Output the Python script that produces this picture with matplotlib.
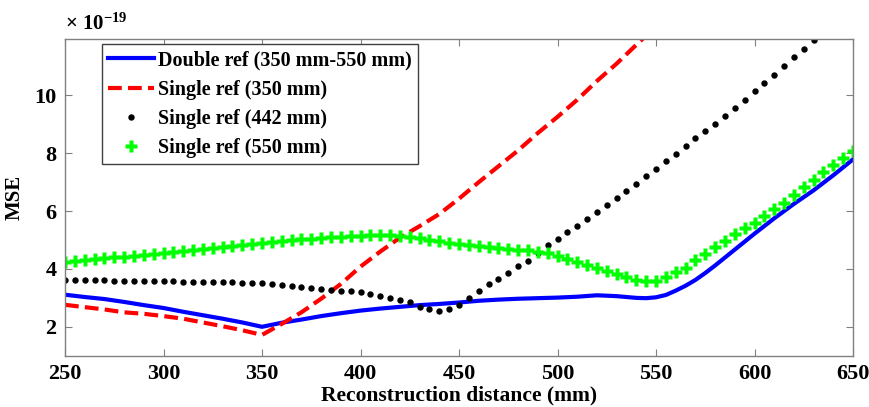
import matplotlib
matplotlib.use("Agg")
import matplotlib.pyplot as plt

plt.rcParams['font.family'] = ['Liberation Serif', 'DejaVu Serif']
plt.rcParams['font.weight'] = 'bold'
plt.rcParams['mathtext.fontset'] = 'custom'
plt.rcParams['mathtext.rm'] = 'Liberation Serif:bold'
plt.rcParams['mathtext.default'] = 'rm'

# Double ref (350 mm-550 mm), values in units of 1e-19
x_double = [250, 260, 270, 280, 290, 300, 310, 320, 330, 340, 350, 360, 370, 380, 390,
            400, 410, 420, 430, 440, 450, 460, 470, 480, 490, 500, 510, 520, 530, 540,
            545, 550, 555, 560, 565, 570, 575, 580, 590, 600, 610, 620, 630, 640, 650]
y_double = [3.11, 3.03, 2.96, 2.86, 2.75, 2.65, 2.52, 2.40, 2.28, 2.15, 2.00, 2.14, 2.25, 2.37, 2.47,
            2.56, 2.63, 2.69, 2.75, 2.79, 2.84, 2.90, 2.94, 2.97, 2.99, 3.01, 3.04, 3.09, 3.06, 3.00,
            2.99, 3.02, 3.10, 3.25, 3.42, 3.62, 3.86, 4.12, 4.67, 5.22, 5.75, 6.25, 6.72, 7.24, 7.79]

# Single ref (350 mm)
x_350 = [250, 260, 270, 280, 290, 300, 310, 320, 330, 340, 350, 360, 370, 380, 390, 400,
         410, 420, 430, 440, 450, 460, 470, 480, 490, 500, 510, 520, 530, 540, 550]
y_350 = [2.76, 2.68, 2.60, 2.50, 2.45, 2.37, 2.28, 2.15, 2.02, 1.88, 1.72, 2.10, 2.50, 2.97, 3.48, 4.08,
         4.60, 5.08, 5.48, 5.90, 6.43, 7.00, 7.55, 8.10, 8.70, 9.26, 9.85, 10.50, 11.10, 11.75, 12.40]

# Single ref (442 mm), 5 mm steps
x_442 = list(range(250, 635, 5))
y_442 = [3.63, 3.62, 3.62, 3.61, 3.61, 3.60, 3.60, 3.59, 3.59, 3.58, 3.57, 3.57, 3.56, 3.56,
         3.55, 3.55, 3.54, 3.54, 3.52, 3.52, 3.52, 3.48, 3.46, 3.42, 3.38, 3.34, 3.32, 3.26,
         3.25, 3.23, 3.19, 3.14, 3.06, 3.00, 2.94, 2.85, 2.69, 2.60, 2.53, 2.60, 2.77, 2.98,
         3.23, 3.47, 3.67, 3.86, 4.09, 4.29, 4.55, 4.84, 5.04, 5.28, 5.50, 5.73, 5.97, 6.21,
         6.46, 6.71, 6.95, 7.23, 7.47, 7.73, 7.99, 8.26, 8.52, 8.78, 9.02, 9.30, 9.57, 9.86,
         10.16, 10.43, 10.71, 11.02, 11.33, 11.62, 11.93]

# Single ref (550 mm), 5 mm steps
x_550 = list(range(250, 655, 5))
y_550 = [4.24, 4.27, 4.31, 4.34, 4.37, 4.40, 4.43, 4.46, 4.49, 4.52, 4.55, 4.59, 4.62, 4.66,
         4.70, 4.73, 4.77, 4.80, 4.84, 4.87, 4.90, 4.93, 4.96, 4.99, 5.02, 5.05, 5.07, 5.09,
         5.11, 5.13, 5.15, 5.16, 5.17, 5.17, 5.15, 5.12, 5.07, 5.00, 4.95, 4.90, 4.86, 4.82,
         4.78, 4.75, 4.73, 4.70, 4.67, 4.64, 4.60, 4.54, 4.46, 4.36, 4.25, 4.14, 4.03, 3.92,
         3.82, 3.72, 3.62, 3.57, 3.60, 3.72, 3.88, 4.05, 4.30, 4.52, 4.77, 4.98, 5.20, 5.40,
         5.60, 5.83, 6.06, 6.28, 6.55, 6.83, 7.08, 7.34, 7.60, 7.85, 8.09]

labels = ['Double ref (350 mm-550 mm)', 'Single ref (350 mm)',
          'Single ref (442 mm)', 'Single ref (550 mm)']

fig = plt.figure(figsize=(8.69, 4.07), dpi=100)
ax = fig.add_axes([0.0748, 0.126, 0.9068, 0.778])

ax.plot(x_double, y_double, color='#0000ff', lw=3, label=labels[0])
ax.plot(x_350, y_350, color='#ff0000', lw=3, ls=(0, (3.3, 1.5)), label=labels[1])
ax.plot(x_442, y_442, ls='none', marker='o', ms=4.6, mec='none', color='black', label=labels[2])
ax.plot(x_550, y_550, ls='none', marker='P', ms=8, mec='none', color='#00ff00', label=labels[3])

ax.set_xlim(250, 650)
ax.set_ylim(1, 11.95)
ax.set_xticks([250, 300, 350, 400, 450, 500, 550, 600, 650])
ax.set_yticks([2, 4, 6, 8, 10])

for s in ax.spines.values():
    s.set_color('#808080')
    s.set_linewidth(1)
ax.tick_params(direction='in', length=5, color='#808080', top=True, right=True,
               labelsize=16, pad=6)

ax.set_xlabel('Reconstruction distance (mm)', fontsize=15.5, fontweight='bold', labelpad=1)
ax.set_ylabel('MSE', fontsize=15, fontweight='bold')
ax.yaxis.set_label_coords(-0.051, 0.5)
ax.text(0.0, 1.012, '× 10$^{-19}$', transform=ax.transAxes, fontsize=15,
        fontweight='bold', ha='left', va='bottom')

leg = ax.legend(loc='upper left', bbox_to_anchor=(0.0466, 0.983), borderaxespad=0,
                fontsize=14.5, frameon=True, fancybox=False, framealpha=1,
                edgecolor='#404040', numpoints=1, handlelength=2.3, handletextpad=0.2,
                labelspacing=0.45, borderpad=0.3)
leg.get_frame().set_linewidth(1)

fig.savefig('out.png', dpi=100)
